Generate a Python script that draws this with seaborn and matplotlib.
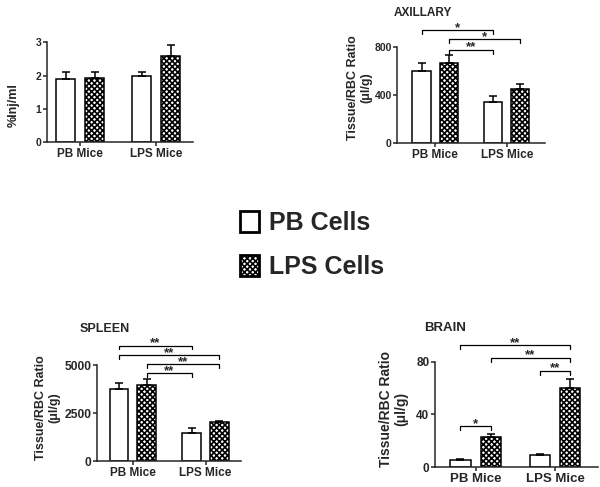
import pandas as pd
import seaborn as sns
import matplotlib.pyplot as plt

# data
mice = ["PB Mice", "PB Mice", "LPS Mice", "LPS Mice"]
cells = ["PB Cells", "LPS Cells", "PB Cells", "LPS Cells"]

blood_mean = [1.90, 1.93, 2.00, 2.60]
blood_sem = [0.20, 0.17, 0.10, 0.33]

axil_mean = [605, 670, 340, 455]
axil_sem = [60, 65, 55, 40]

spleen_mean = [3750, 3950, 1450, 2020]
spleen_sem = [300, 350, 280, 100]

brain_mean = [5.5, 23, 9, 60]
brain_sem = [0.7, 2.5, 1.0, 7]

# brackets: (bar index a, bar index b, height, label); bar index 0..3 as in the lists above
axil_brackets = [(0, 2, 940, "*"), (1, 3, 865, "*"), (1, 2, 775, "**")]
spleen_brackets = [(0, 2, 6000, "**"), (0, 3, 5520, "**"), (1, 3, 5050, "**"), (1, 2, 4580, "**")]
brain_brackets = [(0, 3, 92.5, "**"), (1, 3, 83, "**"), (2, 3, 73, "**"), (0, 1, 31, "*")]

sns.set_style("ticks")
plt.rcParams["font.family"] = ["Liberation Sans", "DejaVu Sans"]
plt.rcParams["font.weight"] = "bold"
plt.rcParams["hatch.linewidth"] = 1.2
plt.rcParams["axes.linewidth"] = 1.1

fig = plt.figure(figsize=(6, 4.87), dpi=100)


def panel(rect, means, sems, yticks, xlim, ylabel, label_xy, ysize=7.5, xsize=8.5,
          lsize=9, brackets=()):
    ax = fig.add_axes(rect)
    df = pd.DataFrame({"mice": mice, "cells": cells, "val": means})
    sns.barplot(data=df, x="mice", y="val", hue="cells", hue_order=["PB Cells", "LPS Cells"],
                order=["PB Mice", "LPS Mice"], palette={"PB Cells": "white", "LPS Cells": "white"},
                edgecolor="black", linewidth=1.1, width=0.76, gap=0.33, errorbar=None,
                legend=False, ax=ax)
    for p in ax.containers[1]:
        p.set_hatch("xxxxxx")
    # bar centers in the same order as the data lists
    bars = []
    for i in range(2):
        bars.append(ax.containers[0][i])
        bars.append(ax.containers[1][i])
    xs = [b.get_x() + b.get_width() / 2 for b in bars]
    ax.errorbar(xs, means, yerr=[[0] * 4, sems], fmt="none", ecolor="black",
                elinewidth=1.1, capsize=3, capthick=1.1, zorder=1)
    d = yticks[-1] * 0.035
    for a, b, h, lab in brackets:
        ax.plot([xs[a], xs[a], xs[b], xs[b]], [h - d, h, h, h - d], color="black",
                lw=0.9, clip_on=False)
        ax.annotate(lab, ((xs[a] + xs[b]) / 2, h), xytext=(0, -0.3), textcoords="offset points",
                    ha="center", va="baseline", fontsize=9.5, fontweight="bold",
                    annotation_clip=False)
    ax.set_ylim(0, yticks[-1])
    ax.set_yticks(yticks)
    ax.set_xlim(*xlim)
    ax.set_xlabel("")
    ax.set_ylabel(ylabel, fontsize=lsize, fontweight="bold", linespacing=1.1)
    ax.yaxis.set_label_coords(*label_xy)
    ax.tick_params(axis="y", labelsize=ysize, length=3, width=1.1, pad=1)
    ax.tick_params(axis="x", labelsize=xsize, length=3, width=1.1, pad=1)
    for t in ax.get_xticklabels() + ax.get_yticklabels():
        t.set_fontweight("bold")
    sns.despine(ax=ax)
    return ax


ax1 = panel([0.078, 0.708, 0.243, 0.205], blood_mean, blood_sem, [0, 1, 2, 3],
            (-0.44, 1.48), "%Inj/ml", (-0.185, 0.37))

ax2 = panel([0.662, 0.706, 0.247, 0.197], axil_mean, axil_sem, [0, 400, 800],
            (-0.53, 1.54), "Tissue/RBC Ratio\n(\u03bcl/g)", (-0.169, 0.58),
            brackets=axil_brackets)
ax2.text(0.17, 1.29, "AXILLARY", transform=ax2.transAxes, ha="center", va="bottom",
         fontsize=8.5, fontweight="bold")

ax3 = panel([0.162, 0.053, 0.240, 0.197], spleen_mean, spleen_sem, [0, 2500, 5000],
            (-0.49, 1.49), "Tissue/RBC Ratio\n(\u03bcl/g)", (-0.257, 0.557),
            ysize=8.7, brackets=spleen_brackets)
ax3.text(0.05, 1.32, "SPLEEN", transform=ax3.transAxes, ha="center", va="bottom",
         fontsize=9, fontweight="bold")

ax4 = panel([0.725, 0.041, 0.272, 0.216], brain_mean, brain_sem, [0, 40, 80],
            (-0.51, 1.54), "Tissue/RBC Ratio\n(\u03bcl/g)", (-0.166, 0.548),
            ysize=8.5, xsize=9.5, lsize=10, brackets=brain_brackets)
ax4.text(0.06, 1.26, "BRAIN", transform=ax4.transAxes, ha="center", va="bottom",
         fontsize=9.5, fontweight="bold")

handles = [ax1.containers[0][0], ax1.containers[1][0]]
leg = fig.legend(handles, ["PB Cells", "LPS Cells"], loc="center", bbox_to_anchor=(0.52, 0.497),
                 frameon=False, prop={"size": 18, "weight": "bold"}, handlelength=0.76,
                 handleheight=0.9, handletextpad=0.4, labelspacing=0.8)
for h in leg.legend_handles:
    h.set_linewidth(2)

fig.savefig("out.png", dpi=100)
